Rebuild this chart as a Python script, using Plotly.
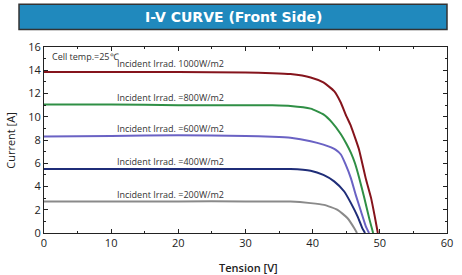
import plotly.graph_objects as go

# Data
v_1000 = [0, 10, 20, 30, 34, 36.7, 39.7, 41.6, 43.2, 44.2, 44.9, 45.7, 46.4, 46.9, 47.2, 47.9, 48.7, 49.2, 49.7]
i_1000 = [13.85, 13.85, 13.85, 13.8, 13.75, 13.67, 13.38, 12.95, 12.2, 11.2, 10.2, 9.2, 8.05, 7.18, 6.45, 4.7, 3.0, 1.56, 0]

v_800 = [0, 10, 20, 30, 34, 36.7, 39.7, 41.6, 42.9, 44.2, 45.0, 45.7, 46.3, 46.9, 47.7, 48.4, 49.0]
i_800 = [11.05, 11.05, 11.0, 11.0, 10.98, 10.93, 10.7, 10.2, 9.5, 8.5, 7.7, 6.9, 6.0, 4.8, 3.0, 1.3, 0]

v_600 = [0, 10, 20, 30, 34, 36.7, 39.7, 41.6, 43.4, 44.2, 44.9, 45.7, 46.4, 47.2, 47.9, 48.4]
i_600 = [8.3, 8.35, 8.4, 8.35, 8.28, 8.19, 7.9, 7.6, 7.18, 6.75, 5.9, 4.7, 3.3, 1.85, 0.6, 0]

v_400 = [0, 10, 20, 30, 34, 36.7, 39.7, 41.6, 43.2, 44.7, 45.7, 46.7, 47.4, 47.8]
i_400 = [5.5, 5.5, 5.5, 5.5, 5.5, 5.5, 5.36, 5.0, 4.44, 3.57, 2.57, 1.41, 0.4, 0]

v_200 = [0, 10, 20, 30, 34, 36.7, 39.7, 41.7, 43.7, 45.2, 46.2, 46.6]
i_200 = [2.72, 2.72, 2.72, 2.72, 2.71, 2.7, 2.57, 2.42, 1.99, 1.27, 0.41, 0]

series_names = ["Incident Irrad. 1000W/m2", "Incident Irrad. =800W/m2", "Incident Irrad. =600W/m2",
                "Incident Irrad. =400W/m2", "Incident Irrad. =200W/m2"]
series_colors = ["#85141c", "#2f8f45", "#6a62c4", "#1f2d78", "#8a8a8a"]
label_y = [14.6, 11.65, 8.97, 6.12, 3.29]
label_x = 10.6

x_ticks = [0, 10, 20, 30, 40, 50, 60]
y_ticks = [0, 2, 4, 6, 8, 10, 12, 14, 16]

title_text = "I-V CURVE (Front Side)"
temp_text = "Cell temp.=25℃"
x_title = "Tension [V]"
y_title = "Current [A]"

fig = go.Figure()
curves = [(v_1000, i_1000), (v_800, i_800), (v_600, i_600), (v_400, i_400), (v_200, i_200)]
for (v, i), name, col in zip(curves, series_names, series_colors):
    fig.add_trace(go.Scatter(x=v, y=i, mode="lines", name=name,
                             line=dict(color=col, width=2, shape="spline", smoothing=0.5),
                             showlegend=False, hoverinfo="skip"))

for name, ly in zip(series_names, label_y):
    fig.add_annotation(x=label_x, y=ly, text=name, showarrow=False, xanchor="left", yanchor="middle",
                       font=dict(family="Open Sans", size=9, color="#333333"))

fig.add_annotation(x=0.85, y=15.16, text=temp_text, showarrow=False, xanchor="left", yanchor="middle",
                   font=dict(family="Open Sans", size=9, color="#333333"))

axis_common = dict(showgrid=False, zeroline=False, showline=True, linecolor="#222222", linewidth=1,
                   mirror="ticks", ticks="inside", tickcolor="#222222", ticklen=4,
                   tickfont=dict(family="Open Sans", size=11, color="#222222"))

fig.update_xaxes(range=[0, 60], tickvals=x_ticks, ticktext=[str(t) for t in x_ticks],
                 minor=dict(dtick=5, tick0=0, ticks="inside", ticklen=2, tickcolor="#222222"),
                 **axis_common)
fig.update_yaxes(range=[0, 16], tickvals=y_ticks, ticktext=[str(t) for t in y_ticks],
                 minor=dict(dtick=1, tick0=0, ticks="inside", ticklen=2, tickcolor="#222222"),
                 **axis_common)

# Title bar
fig.add_shape(type="rect", xref="paper", yref="paper", x0=-0.062, x1=1.0, y0=1.094, y1=1.23,
              fillcolor="#2089bd", line=dict(color="#333333", width=1.5), layer="above")
fig.add_annotation(xref="paper", yref="paper", x=0.469, y=1.162, text=title_text,
                   showarrow=False, xanchor="center", yanchor="middle",
                   font=dict(family="DejaVu Sans", size=14, color="white", weight="bold"))

# Axis titles
fig.add_annotation(xref="paper", yref="paper", x=0.507, y=-0.183, text=x_title, showarrow=False,
                   xanchor="center", yanchor="middle",
                   font=dict(family="Open Sans", size=11, color="#222222", weight=600))
fig.add_annotation(xref="paper", yref="paper", x=-0.085, y=0.5, text=y_title, showarrow=False,
                   xanchor="center", yanchor="middle", textangle=-90,
                   font=dict(family="Open Sans", size=11, color="#222222"))

fig.update_layout(width=462, height=275, margin=dict(l=44, r=15, t=47, b=42, autoexpand=False),
                  paper_bgcolor="white", plot_bgcolor="white")

fig.write_html("out.html", config={"displayModeBar": False},
               post_script="document.body.style.margin='0';document.body.style.overflow='hidden';")
